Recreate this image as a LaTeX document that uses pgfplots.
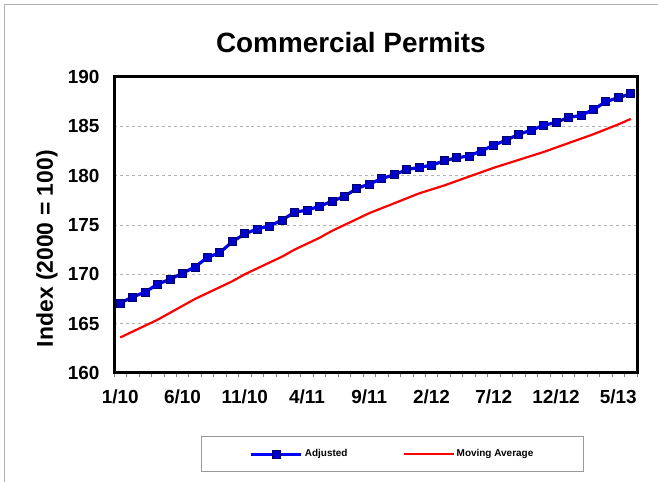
\documentclass[border=0pt]{standalone}
\usepackage{pgfplots}
\pgfplotsset{compat=1.18}
\usepackage{fontspec}
\setmainfont{Liberation Sans}
\definecolor{mkfill}{RGB}{0,0,204}
\definecolor{mkdraw}{RGB}{0,0,110}
\pgfplotstableread{
i adj ma
1 167.1 163.6
2 167.7 164.2
3 168.2 164.8
4 169.0 165.4
5 169.5 166.1
6 170.1 166.8
7 170.75 167.5
8 171.7 168.1
9 172.2 168.7
10 173.3 169.3
11 174.1 170.0
12 174.6 170.6
13 174.9 171.2
14 175.5 171.8
15 176.3 172.5
16 176.5 173.1
17 176.9 173.7
18 177.4 174.4
19 177.9 175.0
20 178.7 175.6
21 179.15 176.2
22 179.7 176.7
23 180.1 177.2
24 180.6 177.7
25 180.85 178.2
26 181.05 178.6
27 181.5 179.0
28 181.8 179.45
29 182.0 179.9
30 182.5 180.35
31 183.1 180.8
32 183.6 181.2
33 184.2 181.6
34 184.6 182.0
35 185.1 182.4
36 185.4 182.85
37 185.9 183.3
38 186.1 183.75
39 186.7 184.2
40 187.5 184.7
41 187.9 185.2
42 188.3 185.75
}\datatable
\begin{document}
\begin{tikzpicture}[x=1bp,y=1bp]
\useasboundingbox (0,0) rectangle (658,482);
\draw[gray!60, line width=0.8bp] (4,0) -- (4,478) -- (658,478);
\begin{axis}[
  at={(114bp,109bp)}, anchor=south west,
  scale only axis, width=523bp, height=296bp,
  xmin=0.5, xmax=42.5, ymin=160, ymax=190,
  axis line style={line width=3bp},
  xtick={1,6,...,41},
  xticklabels={1/10,6/10,11/10,4/11,9/11,2/12,7/12,12/12,5/13},
  minor xtick={0.5,1.5,...,42.5},
  ytick={160,165,...,190},
  tick pos=left,
  tick align=outside,
  major tick length=0pt,
  minor tick length=4bp,
  minor tick style={gray, line width=0.6bp},
  ymajorgrids,
  grid style={gray!60, dashed, line width=0.6bp},
  /pgf/number format/assume math mode=true,
  tick label style={font=\fontsize{19}{19}\selectfont\bfseries},
  xticklabel style={yshift=-13bp},
  yticklabel style={xshift=-11bp},
  title={Commercial Permits},
  title style={font=\fontsize{28}{28}\selectfont\bfseries, at={(axis description cs:0.453,1.095)}, anchor=center},
  ylabel={Index (2000 = 100)},
  ylabel style={font=\fontsize{23}{23}\selectfont\bfseries, at={(axis description cs:-0.128,0.42)}, anchor=center},
  legend columns=2,
  legend style={at={(axis description cs:0.5325,-0.274)}, anchor=center,
    draw=gray!80, line width=0.8bp, font=\fontsize{10}{12}\selectfont\bfseries,
    inner xsep=48bp, inner ysep=11bp,
    /tikz/every even column/.append style={column sep=53bp}},
  legend image code/.code={\draw[mark repeat=2,mark phase=2,#1] plot coordinates {(0bp,0bp) (25bp,0bp) (50bp,0bp)};},
]
\addplot[blue, line width=3.2bp, mark=square*, mark size=4bp,
  mark options={fill=mkfill, draw=mkdraw, line width=0.8bp, solid}] table[x=i, y=adj] {\datatable};
\addlegendentry{Adjusted}
\addplot[red, line width=2.2bp, smooth, tension=0.3] table[x=i, y=ma] {\datatable};
\addlegendentry{Moving Average}
\end{axis}
\end{tikzpicture}
\end{document}
